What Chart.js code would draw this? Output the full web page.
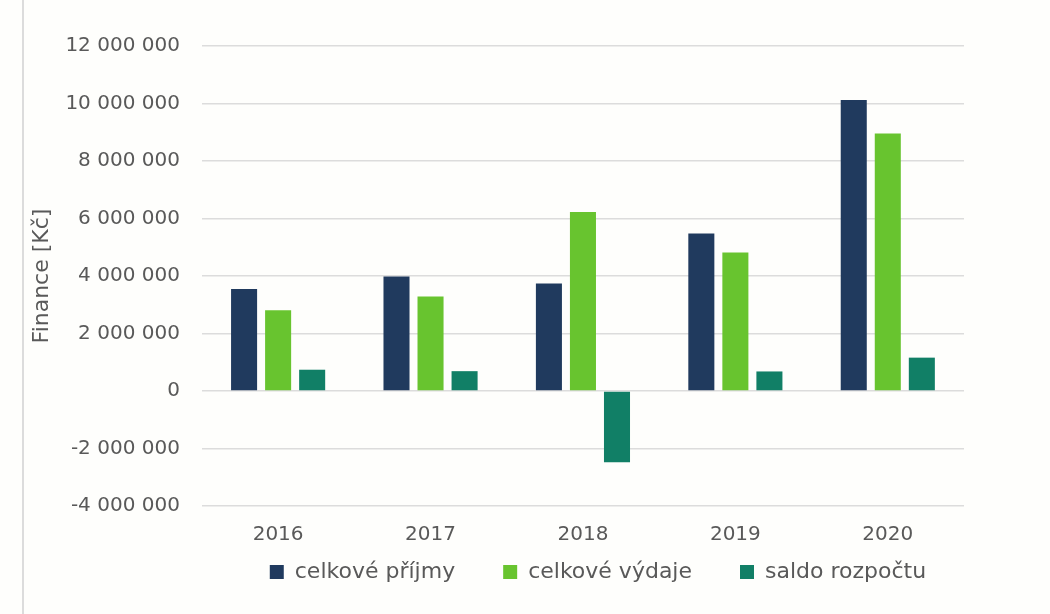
<!DOCTYPE html>
<html>
<head>
<meta charset="utf-8">
<script src="https://cdn.jsdelivr.net/npm/chart.js@4/dist/chart.umd.min.js"></script>
<style>
	html, body { margin: 0; padding: 0; background: #fefefc; }
	#wrap { width: 1050px; height: 614px; position: relative; }
	#wrap:before { content: ''; position: absolute; left: 22px; top: 0; bottom: 0; border-left: 2px solid #dcdcdc; }
</style>
</head>
<body>
<div id="wrap"><canvas id="financeChart" width="1050" height="614"></canvas></div>
<script>
let years = ['2016', '2017', '2018', '2019', '2020'];
let prijmy = [3550000, 3980000, 3740000, 5480000, 10120000];
let vydaje = [2810000, 3290000, 6230000, 4820000, 8960000];
let saldo = [740000, 690000, -2480000, 680000, 1160000];

let yMin = -4000000;
let yMax = 12000000;
let yStep = 2000000;

// thousands separated by a space, like the original
function formatKc(value) {
	return String(value).replace(/\B(?=(\d{3})+(?!\d))/g, ' ');
}

const textColor = '#595959';
const fontName = "'DejaVu Sans', sans-serif";
const legendGap = 48;

// legend items need wide gaps but should sit close under the year labels
const legendShift = {
	id: 'legendShift',
	afterLayout(chart) {
		chart.legend.top -= legendGap + 3;
		chart.legend.bottom -= legendGap + 3;
		chart.legend.left += 15;
		chart.legend.right += 15;
	},
};

const data = {
	labels: years,
	datasets: [
		{ label: 'celkové příjmy', backgroundColor: '#203a5e', data: prijmy },
		{ label: 'celkové výdaje', backgroundColor: '#68c42f', data: vydaje },
		{ label: 'saldo rozpočtu', backgroundColor: '#117f66', data: saldo },
	],
};

const config = {
	type: 'bar',
	data: data,
	options: {
		responsive: false,
		animation: false,
		datasets: { bar: { categoryPercentage: 0.67, barPercentage: 0.765 } },
		layout: { padding: { top: 46, right: 86, bottom: -30, left: 29 } },
		scales: {
			x: {
				grid: { display: false, drawTicks: false },
				border: { display: false },
				ticks: { color: textColor, font: { family: fontName, size: 20 }, padding: 17 },
			},
			y: {
				min: yMin,
				max: yMax,
				grid: { color: '#dcdcdc', lineWidth: 1.5, drawTicks: false },
				border: { display: false },
				ticks: {
					stepSize: yStep,
					color: textColor,
					padding: 22,
					font: { family: fontName, size: 20 },
					callback: (v) => formatKc(v),
				},
				title: {
					display: true,
					text: 'Finance [Kč]',
					color: textColor,
					font: { family: fontName, size: 22 },
					padding: { top: 0, bottom: -12 },
				},
			},
		},
		plugins: {
			legend: {
				position: 'bottom',
				fullSize: false,
				labels: {
					color: textColor,
					font: { family: fontName, size: 22 },
					boxWidth: 14,
					boxHeight: 14,
					padding: legendGap,
				},
			},
			tooltip: { enabled: false },
		},
	},
	plugins: [legendShift],
};

const financeChart = new Chart(document.getElementById('financeChart'), config);
</script>
</body>
</html>
